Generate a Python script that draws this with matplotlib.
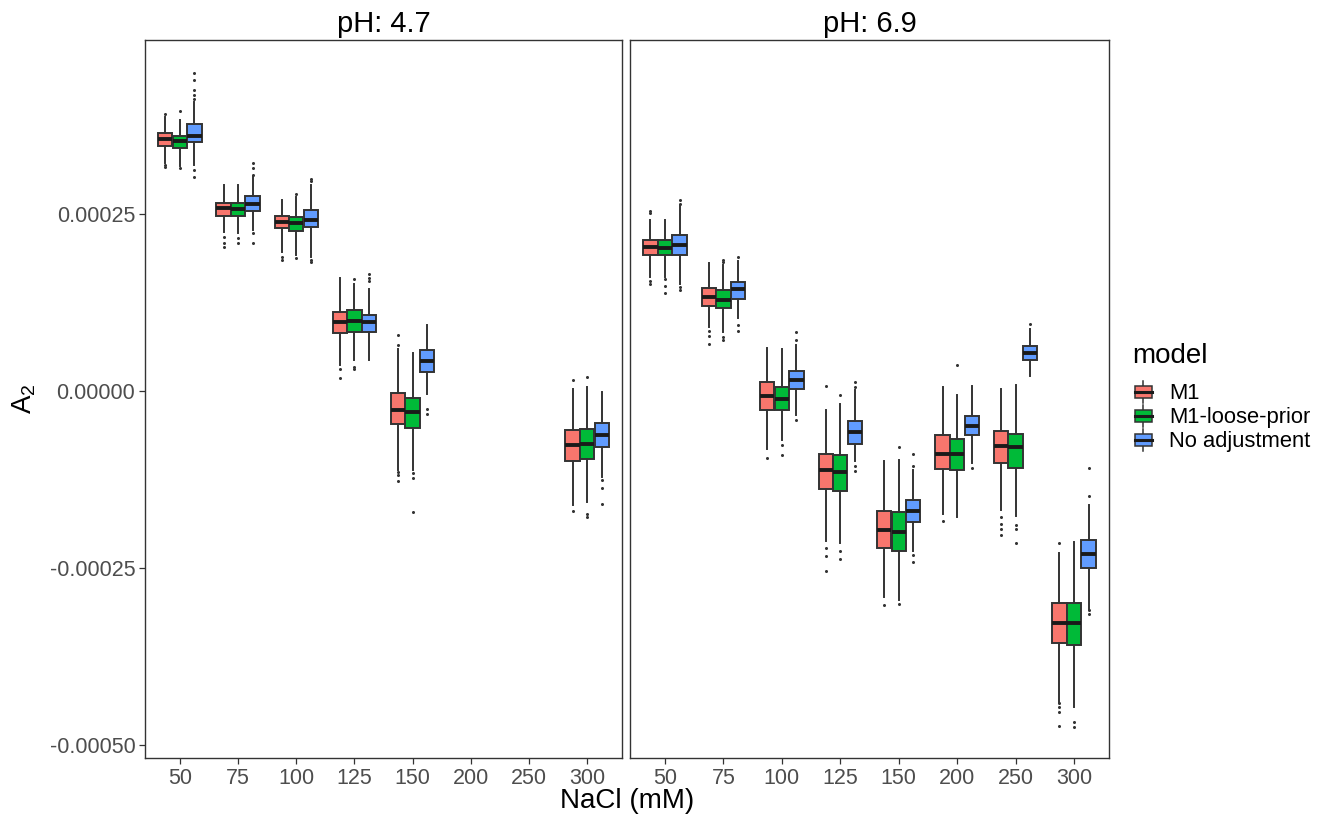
import numpy as np
import matplotlib
matplotlib.use("Agg")
import matplotlib.pyplot as plt
from matplotlib.legend_handler import HandlerBase
from matplotlib.patches import Patch, Rectangle
from matplotlib.lines import Line2D

plt.rcParams['font.family'] = ['Liberation Sans', 'DejaVu Sans']
plt.rcParams['mathtext.default'] = 'regular'

nacl = ['50', '75', '100', '125', '150', '200', '250', '300']
models = ['M1', 'M1-loose-prior', 'No adjustment']
colors = ['#F8766D', '#00BA38', '#619CFF']
ph_labels = ['pH: 4.7', 'pH: 6.9']
nan = np.nan

# box statistics, units of 1e-5; rows = models, columns = NaCl levels
q1_47 = [[34.6, 24.76, 22.98, 8.2, -4.7, nan, nan, -9.84],
         [34.4, 24.7, 22.6, 8.4, -5.13, nan, nan, -9.6],
         [35.2, 25.5, 23.2, 8.3, 2.73, nan, nan, -7.87]]
med_47 = [[35.6, 25.85, 23.9, 9.75, -2.68, nan, nan, -7.53],
          [35.3, 25.7, 23.8, 9.9, -3.0, nan, nan, -7.39],
          [36.1, 26.4, 24.25, 9.75, 4.28, nan, nan, -6.12]]
q3_47 = [[36.4, 26.65, 24.76, 11.2, -0.32, nan, nan, -5.5],
         [36.1, 26.65, 24.6, 11.4, -0.95, nan, nan, -5.37],
         [37.7, 27.6, 25.6, 10.8, 5.8, nan, nan, -4.56]]
lo_47 = [[32.2, 22.5, 19.6, 3.7, -11.16, nan, nan, -16.1],
         [31.8, 22.3, 19.2, 4.4, -11.16, nan, nan, -15.6],
         [31.9, 22.7, 18.9, 4.4, -0.33, nan, nan, -12.1]]
hi_47 = [[38.7, 29.1, 26.98, 16.0, 6.03, nan, nan, 0.38],
         [38.3, 29.1, 27.4, 15.1, 5.4, nan, nan, 0.6],
         [40.9, 30.3, 29.1, 14.4, 9.4, nan, nan, -0.1]]
out_47 = [[[39.2, 32.0, 31.7], [21.8, 20.9, 20.3], [19.0, 18.6], [1.8, 3.2],
           [8.0, 6.5, -11.4, -11.9, -12.7], [], [], [1.65, -16.9]],
          [[39.6, 31.5], [21.6, 20.9], [27.8, 18.8], [3.4, 3.2, 15.8],
           [-11.5, -12.2, -17.1], [], [], [2.0, -17.3, -17.75]],
          [[44.9, 43.9, 42.5, 41.9, 41.3, 31.2, 30.3], [32.2, 31.5, 30.5, 22.3, 20.9],
           [29.7, 30.0, 18.6, 18.3], [16.6, 16.0, 15.6], [-2.5, -3.25], [], [],
           [-12.6, -13.6, -15.9]]]

q1_69 = [[19.2, 12.05, -2.68, -13.84, -22.2, -11.0, -10.1, -35.55],
         [19.2, 11.8, -2.68, -14.1, -22.6, -11.16, -10.9, -35.9],
         [19.25, 13.0, 0.33, -7.39, -18.5, -6.12, 4.47, -25.0]]
med_69 = [[20.3, 13.3, -0.66, -11.16, -19.6, -8.9, -7.72, -32.7],
          [20.2, 12.95, -1.03, -11.4, -19.9, -8.8, -7.9, -32.7],
          [20.7, 14.4, 1.65, -5.75, -16.9, -4.9, 5.46, -23.0]]
q3_69 = [[21.3, 14.6, 1.31, -8.8, -16.95, -6.12, -5.6, -29.9],
         [21.4, 14.3, 0.61, -8.94, -17.05, -6.78, -6.07, -29.9],
         [22.1, 15.4, 2.87, -4.19, -15.4, -3.49, 6.36, -20.95]]
lo_69 = [[16.15, 9.08, -8.1, -21.2, -29.1, -17.3, -16.8, -43.9],
         [16.15, 8.4, -6.9, -21.5, -29.5, -17.75, -17.65, -44.6],
         [15.2, 10.3, -3.4, -9.9, -22.5, -10.2, 2.12, -30.7]]
hi_69 = [[24.15, 18.1, 6.1, -2.68, -9.9, 0.61, 0.38, -22.8],
         [24.15, 17.8, 5.9, -1.84, -9.75, -0.47, 0.85, -21.3],
         [26.1, 18.4, 6.5, 0.14, -11.16, 0.71, 8.85, -16.1]]
out_69 = [[[25.4, 25.1, 15.5, 15.1], [8.5, 7.8, 6.7], [-9.37], [0.7, -22.2, -23.3, -25.4],
           [-30.2], [-18.3], [-17.75, -18.8, -19.5, -20.3], [-21.4, -44.1, -44.6, -45.3, -47.3]],
          [[15.8, 14.8, 13.8], [18.6, 18.2, 7.7, 7.2], [-7.6, -9.0], [-0.56, -22.6, -23.7],
           [-7.87, -30.0], [3.67], [-18.9, -19.5, -21.4], [-46.7, -47.4]],
          [[27.0, 26.4, 14.7, 14.3], [19.0, 9.3, 8.5], [8.4, 7.3, -4.0], [1.3, 0.6, -10.6, -11.3],
           [-8.8, -10.6, -23.2, -24.1], [-10.9], [9.56], [-10.9, -14.8, -30.9, -31.5]]]

yticks = [-0.0005, -0.00025, 0.0, 0.00025]
edge = '#333333'
sc = 1e-5


def draw_panel(ax, q1, med, q3, lo, hi, out):
    for m in range(3):
        stats = []
        pos = []
        for i in range(len(nacl)):
            if np.isnan(med[m][i]):
                continue
            stats.append(dict(q1=q1[m][i] * sc, med=med[m][i] * sc, q3=q3[m][i] * sc,
                              whislo=lo[m][i] * sc, whishi=hi[m][i] * sc,
                              fliers=np.array(out[m][i]) * sc))
            pos.append(i + (m - 1) * 0.25)
        ax.bxp(stats, positions=pos, widths=0.245, patch_artist=True, showcaps=False,
               manage_ticks=False,
               boxprops=dict(facecolor=colors[m], edgecolor=edge, linewidth=1.4),
               medianprops=dict(color='#1a1a1a', linewidth=2.8, solid_capstyle='butt'),
               whiskerprops=dict(color=edge, linewidth=1.4),
               flierprops=dict(marker='o', markersize=2.2, markerfacecolor='#333333',
                               markeredgecolor='none'))


class BoxKey(HandlerBase):
    def create_artists(self, legend, orig_handle, xdescent, ydescent, width, height, fontsize, trans):
        x0, y0 = -xdescent, -ydescent
        cx = x0 + width / 2
        bw = width * 0.8
        b0, b1 = y0 + height * 0.15, y0 + height * 0.85
        wl = Line2D([cx, cx], [y0 - height * 0.12, y0 + height * 1.12], color=edge, lw=1.1, transform=trans)
        rect = Rectangle((cx - bw / 2, b0), bw, b1 - b0, facecolor=orig_handle.get_facecolor(),
                         edgecolor=edge, lw=1.1, transform=trans)
        md = Line2D([cx - bw / 2, cx + bw / 2], [(b0 + b1) / 2] * 2, color='#1a1a1a', lw=2.2,
                    transform=trans)
        return [wl, rect, md]


fig = plt.figure(figsize=(13.34, 8.16), dpi=100)
left_ax = fig.add_axes([145 / 1334, 58 / 816, 477 / 1334, 718 / 816])
right_ax = fig.add_axes([630 / 1334, 58 / 816, 479 / 1334, 718 / 816])

panels = [(left_ax, q1_47, med_47, q3_47, lo_47, hi_47, out_47),
          (right_ax, q1_69, med_69, q3_69, lo_69, hi_69, out_69)]
for k, (ax, a, b, c, d, e, f) in enumerate(panels):
    draw_panel(ax, a, b, c, d, e, f)
    ax.set_xlim(-0.6, len(nacl) - 0.4)
    ax.set_ylim(-0.000518, 0.000496)
    ax.set_xticks(range(len(nacl)))
    ax.set_xticklabels(nacl)
    ax.set_title(ph_labels[k], fontsize=21, pad=6)
    for s in ax.spines.values():
        s.set_color('#333333')
        s.set_linewidth(1.0)
    ax.tick_params(axis='both', direction='out', length=4, width=0.9, color='#333333',
                   labelcolor='#4D4D4D', labelsize=15.5, pad=3)
    if k == 0:
        ax.set_yticks(yticks)
        ax.set_yticklabels(['%.5f' % v for v in yticks])
    else:
        ax.set_yticks([])

left_ax.set_ylabel('A$_2$', fontsize=20, labelpad=8)
fig.text(627 / 1334, 1 - 801 / 816, 'NaCl (mM)', fontsize=20, ha='center', va='center')

# legend title drawn separately to get the larger gap used by ggplot
fig.text(1132 / 1334, 1 - 356 / 816, 'model', fontsize=20, ha='left', va='center')
handles = [Patch(facecolor=c, edgecolor=edge) for c in colors]
fig.legend(handles, models, loc='upper left', bbox_to_anchor=(1133 / 1334, 1 - 383 / 816),
           frameon=False, fontsize=15.8,
           handlelength=0.95, handleheight=0.85, handletextpad=0.7, labelspacing=0.12,
           borderaxespad=0, borderpad=0, handler_map={Patch: BoxKey()})

fig.savefig('out.png', dpi=100)
